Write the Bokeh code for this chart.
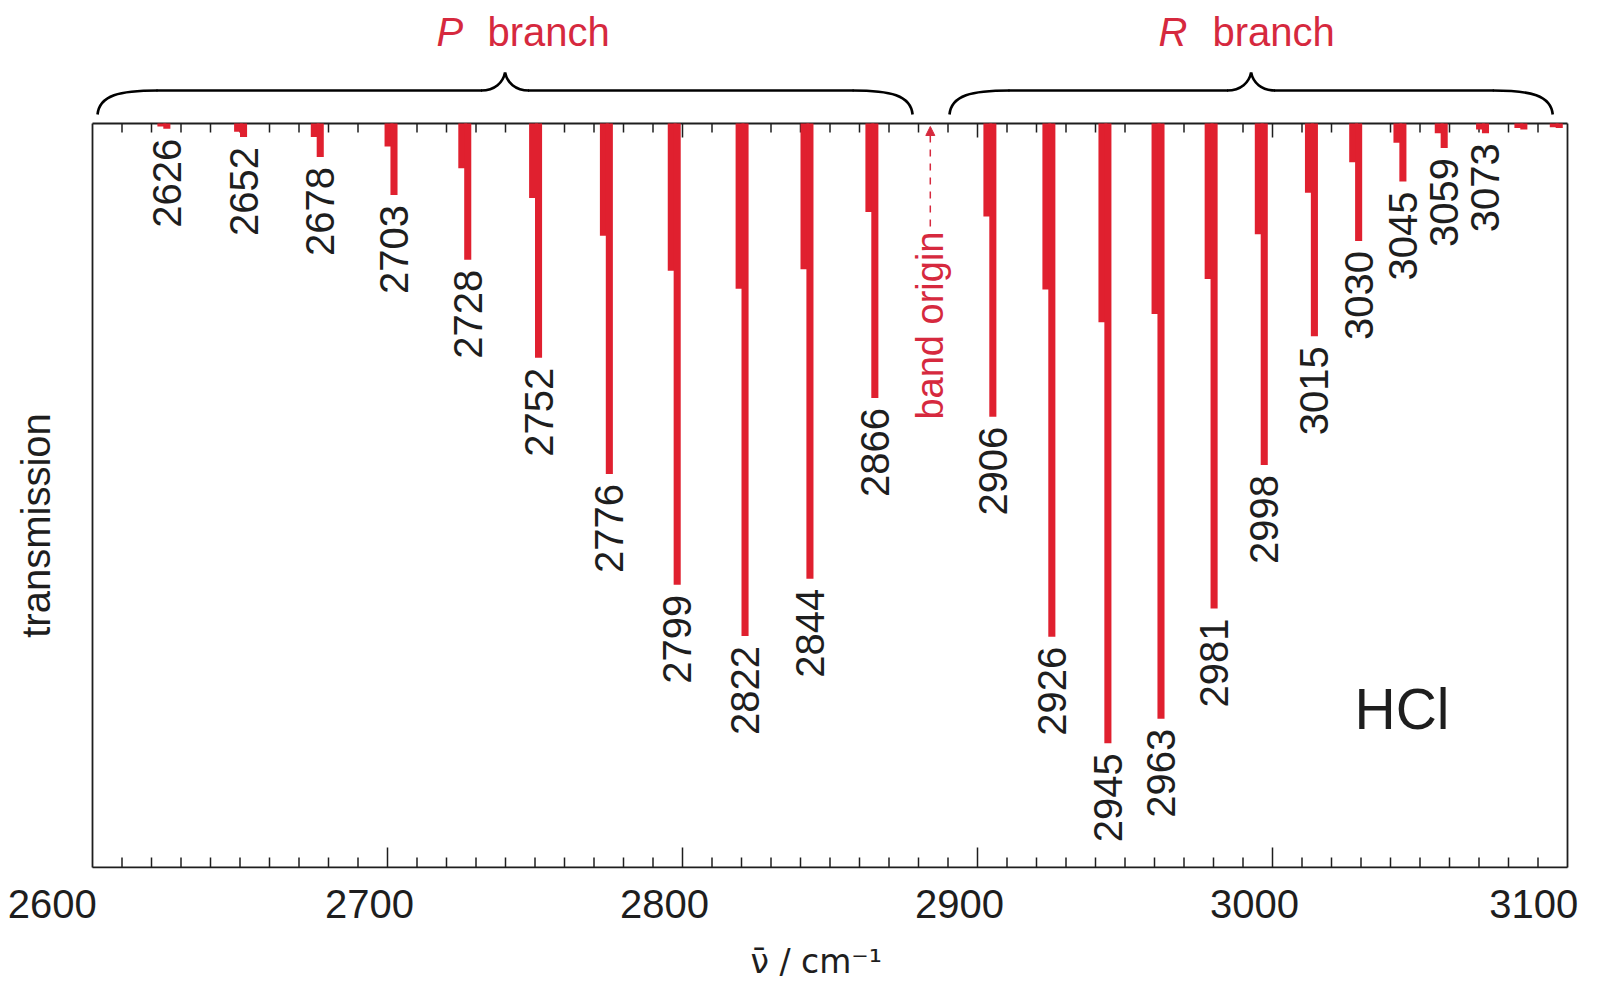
import math
from bokeh.plotting import figure
from bokeh.models import Range1d, FixedTicker, Arrow, NormalHead, LinearAxis
from bokeh.core.properties import value
from bokeh.embed import file_html
from bokeh.resources import INLINE

# ---------------- data ----------------
p_lines = [2626, 2652, 2678, 2703, 2728, 2752, 2776, 2799, 2822, 2844, 2866]
p_main = [0.007, 0.018, 0.045, 0.096, 0.183, 0.315, 0.471, 0.620, 0.689, 0.612, 0.369]
p_iso = [0.004, 0.011, 0.018, 0.031, 0.060, 0.100, 0.151, 0.198, 0.222, 0.196, 0.119]
p_labels = ["2626", "2652", "2678", "2703", "2728", "2752", "2776", "2799", "2822", "2844", "2866"]

r_lines = [2906, 2926, 2945, 2963, 2981, 2998, 3015, 3030, 3045, 3059, 3073, 3086, 3098]
r_main = [0.394, 0.690, 0.833, 0.800, 0.652, 0.459, 0.286, 0.158, 0.078, 0.033, 0.013, 0.008, 0.006]
r_iso = [0.125, 0.223, 0.267, 0.256, 0.209, 0.149, 0.093, 0.052, 0.026, 0.013, 0.008, 0.006, 0.005]
r_labels = ["2906", "2926", "2945", "2963", "2981", "2998", "3015", "3030", "3045", "3059", "3073", "", ""]

band_origin = 2884
p_brace = (2601.7, 2878.0)
r_brace = (2890.5, 3095.0)

x_major_ticks = [2600, 2700, 2800, 2900, 3000, 3100]
x_minor_ticks = [t for t in range(2610, 3100, 10) if t % 100 != 0]

# ---------------- layout ----------------
W, H = 1600, 985
PX = 2.95      # pixels per cm-1
PY = 744.0     # pixels per unit of depth
LEFT_PX = 92   # page x of 2600
BOT_PX = 867   # page y of bottom of box (top of box at 123)
FRAME_BOTTOM = 868

RED = "#e0202f"
TXT_RED = "#d6293e"
INK = "#1e1e1e"
FONT = "Liberation Sans"
NB = "\u00a0"


def X(page_px):
    return 2600 + (page_px - LEFT_PX) / PX


def Y(page_px):
    return (BOT_PX - page_px) / PY


def dx(px):
    return px / PX


def dy(px):
    return px / PY


x_start, x_end = X(0), X(W)
y_start, y_end = Y(FRAME_BOTTOM), Y(0)

p = figure(width=W, height=H, x_range=Range1d(x_start, x_end), y_range=Range1d(y_start, y_end),
           output_backend="svg", toolbar_location=None, title=None,
           min_border_left=0, min_border_right=0, min_border_top=0,
           min_border_bottom=H - FRAME_BOTTOM,
           x_axis_location=None, y_axis_location=None)
p.outline_line_color = None
p.xgrid.visible = False
p.ygrid.visible = False
p.background_fill_color = "white"
p.border_fill_color = "white"

# tick labels: axis on a range shifted so labels sit slightly left of ticks (as in reference)
shift = dx(18)
p.extra_x_ranges = {"lbl": Range1d(x_start + shift, x_end + shift)}
xax = LinearAxis(x_range_name="lbl", ticker=FixedTicker(ticks=x_major_ticks, minor_ticks=[]))
xax.axis_line_color = None
xax.major_tick_line_color = None
xax.minor_tick_line_color = None
xax.major_tick_in = 0
xax.major_tick_out = 0
xax.minor_tick_in = 0
xax.minor_tick_out = 0
xax.major_label_overrides = {2600: "2600" + NB * 4, 3100: "3100" + NB * 2}
xax.major_label_text_font = FONT
xax.major_label_text_font_size = "40px"
xax.major_label_text_color = INK
xax.major_label_text_line_height = 1.0
xax.major_label_standoff = 13
xax.axis_label = NB * 3 + "ν̄ / cm⁻¹"
xax.axis_label_text_font = "DejaVu Sans"
xax.axis_label_text_font_style = "normal"
xax.axis_label_text_font_size = "33px"
xax.axis_label_text_color = INK
xax.axis_label_text_line_height = 1.0
xax.axis_label_standoff = 13
p.add_layout(xax, "below")

# ---------------- box and ticks ----------------
lw = 1.8
p.segment(x0=[2600, 3100, 2600, 2600], y0=[0, 0, 1, 0], x1=[2600, 3100, 3100, 3100], y1=[1, 1, 1, 0],
          line_color=INK, line_width=lw)
maj_inner = [t for t in x_major_ticks if 2600 < t < 3100]
# top ticks (pointing down)
p.segment(x0=x_minor_ticks, y0=[1] * len(x_minor_ticks), x1=x_minor_ticks,
          y1=[1 - dy(9)] * len(x_minor_ticks), line_color=INK, line_width=1.5)
p.segment(x0=maj_inner, y0=[1] * len(maj_inner), x1=maj_inner,
          y1=[1 - dy(14)] * len(maj_inner), line_color=INK, line_width=1.5)
# bottom ticks (pointing up)
p.segment(x0=x_minor_ticks, y0=[0] * len(x_minor_ticks), x1=x_minor_ticks,
          y1=[dy(10)] * len(x_minor_ticks), line_color=INK, line_width=1.5)
p.segment(x0=maj_inner, y0=[0] * len(maj_inner), x1=maj_inner,
          y1=[dy(20)] * len(maj_inner), line_color=INK, line_width=1.5)

# ---------------- bars ----------------
lines = p_lines + r_lines
main = p_main + r_main
iso = p_iso + r_iso
labels = p_labels + r_labels

p.quad(left=[v - 4.0 for v in lines], right=[v - 1.0 for v in lines],
       top=[1] * len(lines), bottom=[1 - d for d in iso], fill_color=RED, line_color=None)
p.quad(left=[v - 2.0 for v in lines], right=[v + 0.4 for v in lines],
       top=[1] * len(lines), bottom=[1 - d for d in main], fill_color=RED, line_color=None)

p.text(x=[v - 0.8 for v in lines], y=[1 - d - dy(10) for d in main], text=labels,
       angle=math.pi / 2, text_align="right", text_baseline="middle",
       text_font=value(FONT), text_font_size="40px", text_color=INK)

# ---------------- band origin ----------------
p.text(x=[band_origin], y=[Y(231)], text=["band origin"], angle=math.pi / 2,
       text_align="right", text_baseline="middle", text_font=value(FONT),
       text_font_size="38px", text_color=TXT_RED)
p.add_layout(Arrow(end=NormalHead(size=9, fill_color=TXT_RED, line_color=TXT_RED),
                   x_start=band_origin, y_start=Y(226), x_end=band_origin, y_end=Y(126),
                   line_color=TXT_RED, line_width=1.5, line_dash="7 7"))

# ---------------- braces ----------------
yE, yF, yP = Y(114), Y(90), Y(72)


def brace(x0, x1):
    xp = (x0 + x1) / 2
    bx0, by0, bx1, by1, cx0, cy0, cx1, cy1 = [], [], [], [], [], [], [], []

    def add(a, b, c, d):
        bx0.append(a[0]); by0.append(a[1]); bx1.append(d[0]); by1.append(d[1])
        cx0.append(b[0]); cy0.append(b[1]); cx1.append(c[0]); cy1.append(c[1])

    add((x0, yE), (x0 + dx(2), yE + (yF - yE) * 0.8), (x0 + dx(22), yF), (x0 + dx(60), yF))
    add((xp - dx(24), yF), (xp - dx(10), yF), (xp - dx(2), yF + (yP - yF) * 0.45), (xp, yP))
    add((xp, yP), (xp + dx(2), yF + (yP - yF) * 0.45), (xp + dx(10), yF), (xp + dx(24), yF))
    add((x1 - dx(60), yF), (x1 - dx(22), yF), (x1 - dx(2), yE + (yF - yE) * 0.8), (x1, yE))
    p.bezier(x0=bx0, y0=by0, x1=bx1, y1=by1, cx0=cx0, cy0=cy0, cx1=cx1, cy1=cy1,
             line_color="black", line_width=2.6)
    p.segment(x0=[x0 + dx(59), xp + dx(23)], y0=[yF, yF], x1=[xp - dx(23), x1 - dx(59)], y1=[yF, yF],
              line_color="black", line_width=2.6)


brace(*p_brace)
brace(*r_brace)

# branch titles (vertical middle of capitals at page y 31)
p.text(x=[X(436), X(1158)], y=[Y(31), Y(31)], text=["P", "R"], text_align="left",
       text_baseline="middle", text_font=value(FONT), text_font_style="italic",
       text_font_size="40px", text_color=TXT_RED)
p.text(x=[X(487), X(1212)], y=[Y(31), Y(31)], text=["branch", "branch"], text_align="left",
       text_baseline="middle", text_font=value(FONT),
       text_font_size="40px", text_color=TXT_RED)

# y label and compound
p.text(x=[X(35)], y=[Y(525)], text=["transmission"], angle=math.pi / 2, text_align="center",
       text_baseline="middle", text_font=value(FONT), text_font_size="40px", text_color=INK)
p.text(x=[X(1354)], y=[Y(708)], text=["HCl"], text_align="left", text_baseline="middle",
       text_font=value(FONT), text_font_size="57px", text_color=INK)

open("out.html", "w").write(file_html(p, INLINE))
